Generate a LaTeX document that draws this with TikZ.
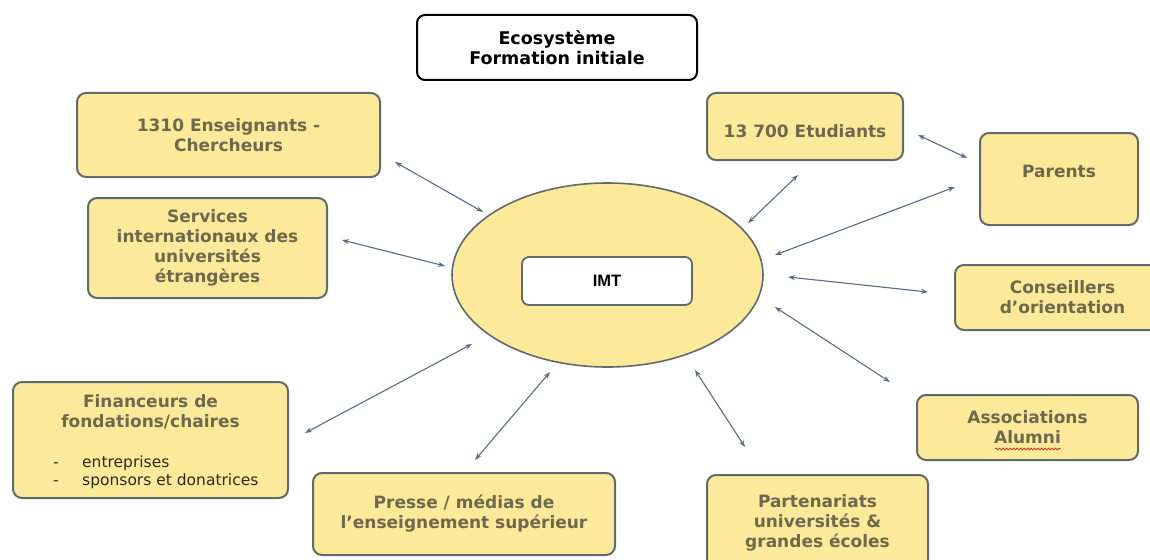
\documentclass[tikz,border=0pt]{standalone}
\usepackage{fontspec}
\setmainfont{DejaVu Sans}
\newfontfamily\imtfont{Liberation Sans}
\usetikzlibrary{arrows.meta,shapes.geometric,decorations.pathmorphing}
\definecolor{boxfill}{RGB}{252,233,153}
\definecolor{boxborder}{RGB}{96,106,106}
\definecolor{boxtext}{RGB}{110,105,76}
\definecolor{listtext}{RGB}{45,42,30}
\definecolor{arrowc}{RGB}{88,108,136}
\definecolor{spellred}{RGB}{190,60,50}
\begin{document}
\begin{tikzpicture}[x=1pt,y=-1pt,
  box/.style={draw=boxborder, line width=2pt, fill=boxfill, rounded corners=9pt,
    align=center, text=boxtext, font=\bfseries\fontsize{17}{20}\selectfont, inner sep=0pt},
  boxtxt/.style={align=center, text=boxtext, font=\bfseries\fontsize{17}{20}\selectfont, inner sep=0pt},
  conn/.style={draw=arrowc, line width=1.1pt,
    {Stealth[length=7pt,width=5pt]}-{Stealth[length=7pt,width=5pt]}}
]
\useasboundingbox (0,0) rectangle (1150,559);
\fill[white] (0,0) rectangle (1150,559);

% title
\node[draw=black, line width=2pt, fill=white, rounded corners=8pt, minimum width=280pt,
  minimum height=65pt, align=center, inner sep=0pt,
  font=\bfseries\fontsize{17.5}{20}\selectfont] (title) at (557,47.5) {Ecosystème\\Formation initiale};

% centre
\node[draw=boxborder, line width=1.6pt, fill=boxfill, ellipse, minimum width=311pt,
  minimum height=184pt, inner sep=0pt] (ell) at (607.5,275) {};
\node[draw=boxborder, line width=1.8pt, fill=white, rounded corners=7pt, minimum width=170pt,
  minimum height=48pt, inner sep=0pt, font=\imtfont\bfseries\fontsize{16.5}{19}\selectfont] (imt) at (607,281) {IMT};

% boxes
\node[box, minimum width=303pt, minimum height=84pt] (ens) at (228.5,135) {1310 Enseignants -\\Chercheurs};
\node[box, minimum width=239pt, minimum height=100pt] (serv) at (207.5,248) {Services\\internationaux des\\universités\\étrangères};
\node[box, minimum width=196pt, minimum height=67pt] (etu) at (805,126.5) {\raisebox{-5pt}[12.4pt][0pt]{13 700 Etudiants}};
\node[box, minimum width=158pt, minimum height=92pt] (par) at (1059,179) {\raisebox{8pt}[12.4pt][0pt]{Parents}};
\node[box, minimum width=215pt, minimum height=65pt] (cons) at (1062.5,297.5) {Conseillers\\d’orientation};
\node[box, minimum width=221pt, minimum height=65pt] (asso) at (1027.5,427.5) {Associations\\Alumni};
\node[box, minimum width=221pt, minimum height=95pt] (part) at (817.5,522.5) {Partenariats\\universités \&\\grandes écoles};
\node[box, minimum width=302pt, minimum height=82pt] (presse) at (464,514) {Presse / médias de\\l’enseignement supérieur};
\node[box, minimum width=275pt, minimum height=116pt] (fin) at (150.5,440) {};
\node[boxtxt, anchor=north] (fint) at (150.5,394) {Financeurs de\\fondations/chaires};
\node[anchor=north west, inner sep=0pt, align=left, text=listtext,
  font=\fontsize{15.5}{17.5}\selectfont] (finl) at (53,456)
  {\makebox[29pt][l]{-}entreprises\\\makebox[29pt][l]{-}sponsors et donatrices};

% spell-check underline
\draw[spellred, line width=0.8pt, decorate, decoration={snake, amplitude=0.9pt, segment length=3.5pt}]
  (995,449) -- (1061,449);

% connector end points
\coordinate (a1) at (395,162);  \coordinate (b1) at (483,212);
\coordinate (a2) at (342,240);  \coordinate (b2) at (445,266);
\coordinate (a3) at (798,175);  \coordinate (b3) at (748,223);
\coordinate (a4) at (918,135);  \coordinate (b4) at (967,158);
\coordinate (a5) at (955,187);  \coordinate (b5) at (775,255);
\coordinate (a6) at (928,292);  \coordinate (b6) at (788,277);
\coordinate (a7) at (890,382);  \coordinate (b7) at (775,307);
\coordinate (a8) at (745,447);  \coordinate (b8) at (695,370);
\coordinate (a9) at (475,460);  \coordinate (b9) at (550,372);
\coordinate (a10) at (305,433); \coordinate (b10) at (472,344);

\foreach \i in {1,...,10} \draw[conn] (a\i) -- (b\i);
\end{tikzpicture}
\end{document}
